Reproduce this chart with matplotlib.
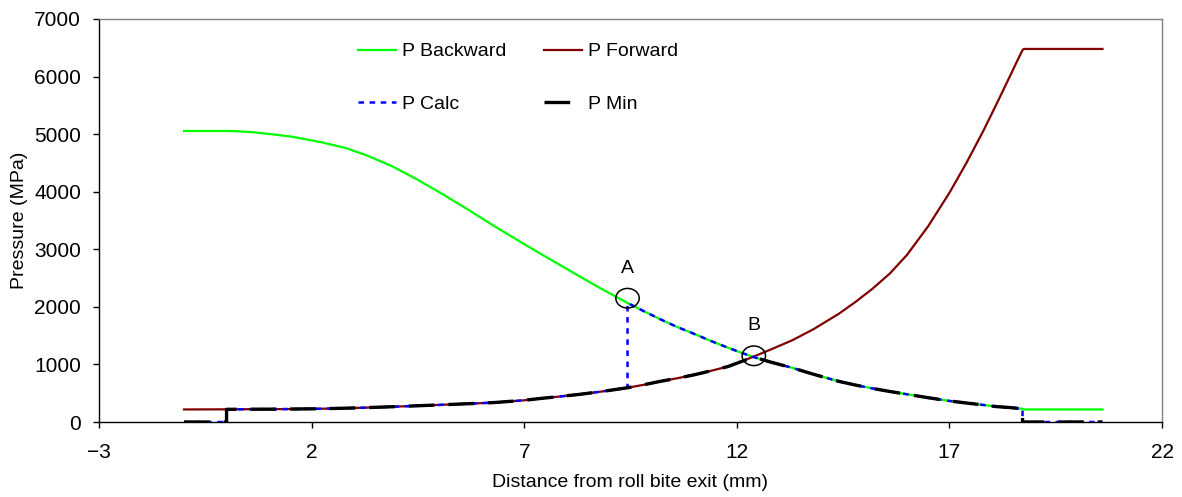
import numpy as np
import matplotlib
matplotlib.use("Agg")
import matplotlib.pyplot as plt
from matplotlib.patches import Ellipse

plt.rcParams['font.family'] = ['Liberation Sans', 'DejaVu Sans']
plt.rcParams['lines.scale_dashes'] = False

# ---- data ----
x_mm = [-1.0, 0.0, 0.25, 0.6, 1.0, 1.5, 2.2, 2.8, 3.3, 3.9, 4.5, 5.1, 5.7,
        6.3, 7.0, 7.4, 7.8, 8.3, 8.8, 9.43, 9.8, 10.2, 10.6, 11.0, 11.4,
        11.8, 12.1, 12.4, 12.8, 13.3, 13.8, 14.4, 14.8, 15.2, 15.6, 16.0,
        16.5, 17.0, 17.4, 17.8, 18.1, 18.4, 18.6, 18.72, 18.75, 20.6]
p_backward = [5055, 5055, 5050, 5035, 5003, 4960, 4864, 4760, 4630, 4440,
              4205, 3950, 3680, 3400, 3090, 2915, 2745, 2530, 2320, 2067,
              1930, 1785, 1650, 1530, 1405, 1288, 1205, 1127, 1040, 942,
              830, 706, 640, 582, 530, 482, 422, 366, 330, 296, 268, 252,
              238, 230, 218, 218]
p_forward = [218, 220, 221, 222, 223, 225, 230, 240, 250, 265, 282, 300, 318,
             338, 377, 410, 440, 480, 527, 595, 645, 706, 760, 820, 890,
             965, 1048, 1137, 1260, 1418, 1610, 1880, 2090, 2320, 2580,
             2900, 3400, 3980, 4500, 5060, 5510, 5970, 6280, 6460, 6480,
             6480]
contact_start = 0.0     # P Min / P Calc are zero outside the contact zone
contact_end = 18.72
switch_x = 9.43         # P Calc switches from forward to backward (point A)

annot_labels = ['A', 'B']
annot_x = [9.43, 12.40]
annot_y = [2150, 1150]

x_ticks = [-3, 2, 7, 12, 17, 22]
y_ticks = [0, 1000, 2000, 3000, 4000, 5000, 6000, 7000]

# ---- derived series ----
x = np.array(x_mm, dtype=float)
pb = np.array(p_backward, dtype=float)
pf = np.array(p_forward, dtype=float)
act = (x >= contact_start) & (x <= contact_end)

min_x = np.concatenate([[x[0], contact_start], x[act], [contact_end, x[-1]]])
min_y = np.concatenate([[0, 0], np.minimum(pf, pb)[act], [0, 0]])

left = act & (x <= switch_x)
right = act & (x >= switch_x)
calc_x = np.concatenate([[x[0], contact_start], x[left], x[right], [contact_end, x[-1]]])
calc_y = np.concatenate([[0, 0], pf[left], pb[right], [0, 0]])

# ---- figure ----
fig = plt.figure(figsize=(11.82, 4.97), dpi=100)
ax_h = (422 - 19) / 497
ax = fig.add_axes([99/1182, 1-422/497, (1162-99)/1182, ax_h])

l_b, = ax.plot(x, pb, color='#00FF00', lw=1.6, label='P Backward', zorder=2)
l_f, = ax.plot(x, pf, color='#800000', lw=1.6, label='P Forward', zorder=2)
l_c, = ax.plot(calc_x, calc_y, color='#0000FF', lw=1.8, dashes=(4, 4),
               label='P Calc', zorder=3)
l_m, = ax.plot(min_x, min_y, color='black', lw=2.4, dashes=(18.5, 10),
               label='P Min', zorder=4)

for lab, ax_, ay_ in zip(annot_labels, annot_x, annot_y):
    ax.add_patch(Ellipse((ax_, ay_), width=0.55, height=340, fill=False,
                         edgecolor='black', lw=1.1, zorder=5))
    ax.annotate(lab, (ax_, ay_), xytext=(0, 21.5), textcoords='offset points',
                ha='center', va='center', fontsize=14)

ax.set_xlim(-3, 22)
ax.set_ylim(0, 7000)
ax.set_xticks(x_ticks)
ax.set_yticks(y_ticks)
ax.tick_params(axis='y', direction='out', length=4, width=1, pad=9, labelsize=15)
ax.tick_params(axis='x', direction='out', length=4, width=1, pad=11, labelsize=15)

for s in ['top', 'right']:
    ax.spines[s].set_color('#808080')
    ax.spines[s].set_linewidth(1.0)
for s in ['left', 'bottom']:
    ax.spines[s].set_color('black')
    ax.spines[s].set_linewidth(1.0)

ax.set_xlabel('Distance from roll bite exit (mm)', fontsize=14)
ax.set_ylabel('Pressure (MPa)', fontsize=14)
ax.xaxis.set_label_coords(0.5, (422 - 474) / 403)
ax.yaxis.set_label_coords((28 - 99) / (1162 - 99), 0.5)

# order so that rows read: Backward, Forward / Calc, Min
fig.legend([l_b, l_c, l_f, l_m], ['P Backward', 'P Calc', 'P Forward', 'P Min'],
           ncol=2, frameon=False, fontsize=14,
           loc='center', bbox_to_anchor=(518/1182, 1-78/497),
           bbox_transform=fig.transFigure, handlelength=2.0,
           handletextpad=0.3, columnspacing=1.9, labelspacing=1.8)

fig.savefig('out.png', dpi=100)
